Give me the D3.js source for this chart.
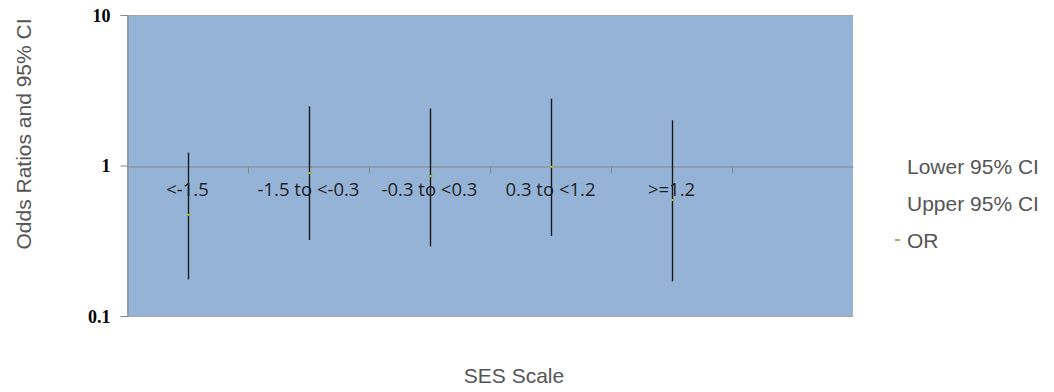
<!DOCTYPE html>
<html>
<head>
<meta charset="utf-8">
<script src="https://cdn.jsdelivr.net/npm/d3@7"></script>
<style>
  body { margin: 0; background: #fff; }
  svg { display: block; }
</style>
</head>
<body>
<div id="chart"></div>
<script>
// SES categories (last slot is an empty category on the axis)
const categories = ["<-1.5", "-1.5 to <-0.3", "-0.3 to <0.3", "0.3 to <1.2", ">=1.2", " "];
const orValues = [0.47, 0.89, 0.85, 0.98, 0.59];
const lowerCI = [0.175, 0.32, 0.29, 0.34, 0.17];
const upperCI = [1.22, 2.47, 2.39, 2.78, 2.0];
const yTicks = [0.1, 1, 10];
const legendLabels = ["Lower 95% CI", "Upper 95% CI", "OR"];

const W = 1054, H = 392;
const plot = { left: 127, right: 853, top: 15, bottom: 316 };

const svg = d3.select("#chart").append("svg")
  .attr("width", W)
  .attr("height", H);

const x = d3.scaleBand()
  .domain(categories)
  .range([plot.left, plot.right])
  .padding(0);

const y = d3.scaleLog()
  .domain([0.1, 10])
  .range([plot.bottom, plot.top]);

// plot area
svg.append("rect")
  .attr("x", plot.left)
  .attr("y", plot.top)
  .attr("width", plot.right - plot.left)
  .attr("height", plot.bottom - plot.top)
  .attr("fill", "#95b3d7");

// top / bottom borders
svg.append("line")
  .attr("x1", plot.left).attr("x2", plot.right)
  .attr("y1", plot.top + 0.5).attr("y2", plot.top + 0.5)
  .attr("stroke", "#a6a6a6");
svg.append("line")
  .attr("x1", plot.left).attr("x2", plot.right)
  .attr("y1", plot.bottom + 0.5).attr("y2", plot.bottom + 0.5)
  .attr("stroke", "#a6a6a6");

// y axis
const yAxis = svg.append("g")
  .attr("transform", `translate(${plot.left + 0.5},0)`)
  .call(d3.axisLeft(y).tickValues(yTicks).tickFormat(d3.format("")).tickSize(7).tickSizeOuter(0).tickPadding(10));
yAxis.select(".domain").attr("stroke", "#868686");
yAxis.selectAll(".tick line").attr("stroke", "#868686");
yAxis.selectAll(".tick text")
  .attr("fill", "#000")
  .attr("font-family", "'Liberation Serif', 'Times New Roman', serif")
  .attr("font-weight", "bold")
  .attr("font-size", 18)
  .attr("dy", "0.36em");

// x axis crossing at 1
const y1 = Math.round(y(1)) + 0.5;
const xAxis = svg.append("g")
  .attr("transform", `translate(0,${y1})`)
  .call(d3.axisBottom(x).tickSize(0).tickSizeOuter(0).tickPadding(16));
xAxis.select(".domain").attr("stroke", "#868686");
xAxis.selectAll(".tick text")
  .attr("fill", "#1f1f1f")
  .attr("font-family", "'Open Sans', 'Noto Sans', sans-serif")
  .attr("font-size", 18.5);

// category boundary ticks
svg.append("g").selectAll("line")
  .data(categories.slice(1))
  .join("line")
  .attr("x1", d => Math.round(x(d)) + 0.5)
  .attr("x2", d => Math.round(x(d)) + 0.5)
  .attr("y1", y1)
  .attr("y2", y1 + 7)
  .attr("stroke", "#868686");

// CI lines
const cx = i => Math.round(x(categories[i]) + x.bandwidth() / 2) + 0.5;
svg.append("g").selectAll("line")
  .data(orValues)
  .join("line")
  .attr("x1", (d, i) => cx(i))
  .attr("x2", (d, i) => cx(i))
  .attr("y1", (d, i) => y(upperCI[i]))
  .attr("y2", (d, i) => y(lowerCI[i]))
  .attr("stroke", "#1a1a1a")
  .attr("stroke-width", 1.4);

// OR markers
svg.append("g").selectAll("rect")
  .data(orValues)
  .join("rect")
  .attr("x", (d, i) => cx(i) - 2)
  .attr("y", d => y(d) - 1)
  .attr("width", 5)
  .attr("height", 2)
  .attr("fill", "#9bbb59");

// titles
const sans = "'Liberation Sans', Arial, sans-serif";
svg.append("text")
  .attr("transform", "translate(31,134) rotate(-90)")
  .attr("text-anchor", "middle")
  .attr("font-family", sans)
  .attr("font-size", 21)
  .attr("fill", "#555")
  .text("Odds Ratios and 95% CI");

svg.append("text")
  .attr("x", 514)
  .attr("y", 383)
  .attr("text-anchor", "middle")
  .attr("font-family", sans)
  .attr("font-size", 21)
  .attr("fill", "#555")
  .text("SES Scale");

// legend
const legend = svg.append("g").selectAll("g")
  .data(legendLabels)
  .join("g")
  .attr("transform", (d, i) => `translate(907,${166 + i * 37})`);
legend.append("text")
  .attr("dy", "0.36em")
  .attr("font-family", sans)
  .attr("font-size", 21)
  .attr("fill", "#555")
  .text(d => d);
legend.filter(d => d === "OR").append("rect")
  .attr("x", -12)
  .attr("y", -1)
  .attr("width", 5)
  .attr("height", 2)
  .attr("fill", "#9bbb59");
</script>
</body>
</html>
